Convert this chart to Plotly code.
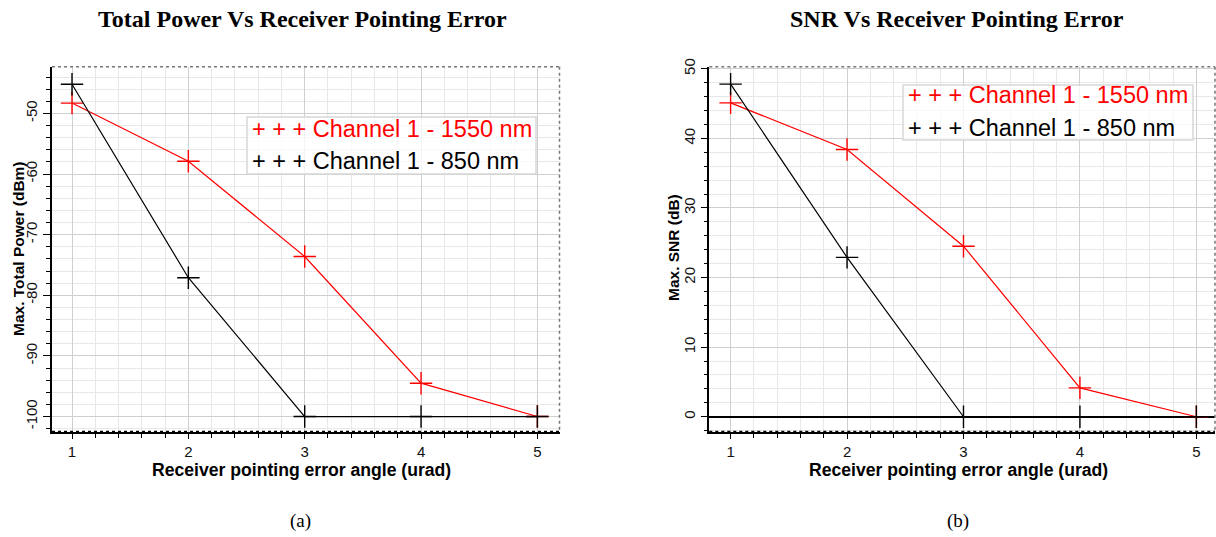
import plotly.graph_objects as go

W, H = 1216, 537

angle = [1, 2, 3, 4, 5]
power_1550 = [-48.3, -57.9, -73.6, -94.5, -100]
power_850 = [-45.2, -77.1, -100, -100, -100]
snr_1550 = [45.1, 38.4, 24.5, 4.15, 0]
snr_850 = [47.8, 22.9, 0, 0, 0]

x_ticks = [1, 2, 3, 4, 5]
power_ticks = [-100, -90, -80, -70, -60, -50]
power_tick_labels = ["-100", "-90", "-80", "-70", "-60", "-50"]
snr_ticks = [0, 10, 20, 30, 40, 50]
snr_tick_labels = ["0", "10", "20", "30", "40", "50"]

name_1550 = "Channel 1 - 1550 nm"
name_850 = "Channel 1 - 850 nm"
x_title = "Receiver pointing error angle (urad)"
title_a = "Total Power Vs Receiver Pointing Error"
title_b = "SNR Vs Receiver Pointing Error"
ytitle_a = "Max. Total Power (dBm)"
ytitle_b = "Max. SNR (dB)"


def px(x):
    return x / W


def py(y):
    return 1 - y / H


fig = go.Figure()

RED = "#ff0000"
BLK = "#000000"


def add_series(xs, ys, color, xa, ya):
    fig.add_trace(go.Scatter(
        x=xs, y=ys, mode="lines+markers", xaxis=xa, yaxis=ya,
        line=dict(color=color, width=1.2),
        marker=dict(symbol="cross-thin", size=16, line=dict(color=color, width=1.4)),
        showlegend=False, cliponaxis=False, hoverinfo="skip"))


add_series(angle, power_1550, RED, "x", "y")
add_series(angle, power_850, BLK, "x", "y")
add_series(angle, snr_1550, RED, "x2", "y2")
add_series(angle, snr_850, BLK, "x2", "y2")

tickfont = dict(family="Liberation Sans, Arial", size=15, color="#111")

common_x = dict(
    tickmode="array", tickvals=x_ticks, ticktext=[str(v) for v in x_ticks],
    showgrid=True, gridcolor="#cfcfcf", gridwidth=1.3,
    minor=dict(tick0=1, dtick=0.2, showgrid=True, gridcolor="#e8e8e8", ticks="outside",
               ticklen=4, tickcolor="#000"),
    ticks="outside", ticklen=5, tickcolor="#000", tickwidth=1,
    showline=True, linecolor="#000", linewidth=2, mirror=False,
    zeroline=False, tickfont=tickfont, automargin=False,
)
common_y = dict(
    showgrid=True, gridcolor="#cfcfcf", gridwidth=1.3,
    minor=dict(tick0=0, dtick=2, showgrid=True, gridcolor="#e8e8e8", ticks="outside",
               ticklen=4, tickcolor="#000"),
    ticks="outside", ticklen=7, tickcolor="#000",
    showline=True, linecolor="#000", linewidth=1.5,
    tickangle=-90, tickfont=tickfont, automargin=False,
)

A_L, A_R = 52, 559.5
B_L, B_R = 709.3, 1215
P_T, P_B = 66.7, 431.7

fig.update_layout(
    width=W, height=H,
    margin=dict(l=0, r=0, t=0, b=0, autoexpand=False),
    paper_bgcolor="white", plot_bgcolor="white",
    hovermode=False,
    xaxis=dict(domain=[px(A_L), px(A_R)], range=[0.828, 5.19], anchor="y", **common_x),
    yaxis=dict(domain=[py(P_B), py(P_T)], range=[-102.5, -42.3], anchor="x",
               tickmode="array", tickvals=power_ticks, ticktext=power_tick_labels,
               zeroline=False, **common_y),
    xaxis2=dict(domain=[px(B_L), px(B_R)], range=[0.817, 5.16], anchor="y2", **common_x),
    yaxis2=dict(domain=[py(P_B), py(P_T)], range=[-2.15, 50.3], anchor="x2",
                tickmode="array", tickvals=snr_ticks, ticktext=snr_tick_labels,
                zeroline=True, zerolinecolor="#000", zerolinewidth=1.5, **common_y),
)

shapes = []
for (x0, x1) in [(A_L, A_R), (B_L, B_R)]:
    shapes.append(dict(type="line", xref="paper", yref="paper",
                       x0=px(x0), x1=px(x1), y0=py(P_T), y1=py(P_T),
                       line=dict(color="#777", width=1.5, dash="dot")))
    shapes.append(dict(type="line", xref="paper", yref="paper",
                       x0=px(x1), x1=px(x1), y0=py(P_T), y1=py(P_B),
                       line=dict(color="#777", width=1.5, dash="dot")))
    shapes.append(dict(type="line", xref="paper", yref="paper",
                       x0=px(x0), x1=px(x1), y0=py(P_B), y1=py(P_B),
                       line=dict(color="#000", width=2, dash="dot")))

legend_boxes = [(247, 117, 536, 174), (903, 85, 1193, 140)]
for (x0, y0, x1, y1) in legend_boxes:
    shapes.append(dict(type="rect", xref="paper", yref="paper",
                       x0=px(x0), x1=px(x1), y0=py(y1), y1=py(y0),
                       fillcolor="rgba(255,255,255,0.75)",
                       line=dict(color="#d8d8d8", width=1.5), layer="above"))
fig.update_layout(shapes=shapes)

legfont = 23.5
annots = []
legend_rows = [
    (250, 129, RED, name_1550), (250, 161, BLK, name_850),
    (906, 95, RED, name_1550), (906, 128, BLK, name_850),
]
for (x, y, c, t) in legend_rows:
    annots.append(dict(xref="paper", yref="paper", x=px(x), y=py(y),
                       xanchor="left", yanchor="middle", showarrow=False,
                       text="+ + + " + t,
                       font=dict(family="Liberation Sans, Arial", size=legfont, color=c)))

axf = dict(family="Liberation Sans, Arial", size=17.6, color="#000")
ayf = dict(family="Liberation Sans, Arial", size=15.5, color="#000")
for (cx, txt) in [(301, x_title), (958, x_title)]:
    annots.append(dict(xref="paper", yref="paper", x=px(cx), y=py(470),
                       text="<b>%s</b>" % txt, showarrow=False, font=axf,
                       xanchor="center", yanchor="middle"))
for (cx, cy, txt) in [(18, 249, ytitle_a), (674, 248, ytitle_b)]:
    annots.append(dict(xref="paper", yref="paper", x=px(cx), y=py(cy),
                       text="<b>%s</b>" % txt, showarrow=False, font=ayf, textangle=-90,
                       xanchor="center", yanchor="middle"))

titlef = dict(family="Liberation Serif, Times New Roman", size=24, color="#000")
annots.append(dict(xref="paper", yref="paper", x=px(302), y=py(19), text="<b>%s</b>" % title_a,
                   showarrow=False, font=titlef, xanchor="center", yanchor="middle"))
annots.append(dict(xref="paper", yref="paper", x=px(957), y=py(19), text="<b>%s</b>" % title_b,
                   showarrow=False, font=titlef, xanchor="center", yanchor="middle"))
capf = dict(family="Liberation Serif, Times New Roman", size=19, color="#000")
annots.append(dict(xref="paper", yref="paper", x=px(300), y=py(521), text="(a)",
                   showarrow=False, font=capf, xanchor="center", yanchor="middle"))
annots.append(dict(xref="paper", yref="paper", x=px(958), y=py(521), text="(b)",
                   showarrow=False, font=capf, xanchor="center", yanchor="middle"))
fig.update_layout(annotations=annots)

fig.write_html("out.html", config={"displayModeBar": False},
               post_script="document.body.style.margin='0px';")
